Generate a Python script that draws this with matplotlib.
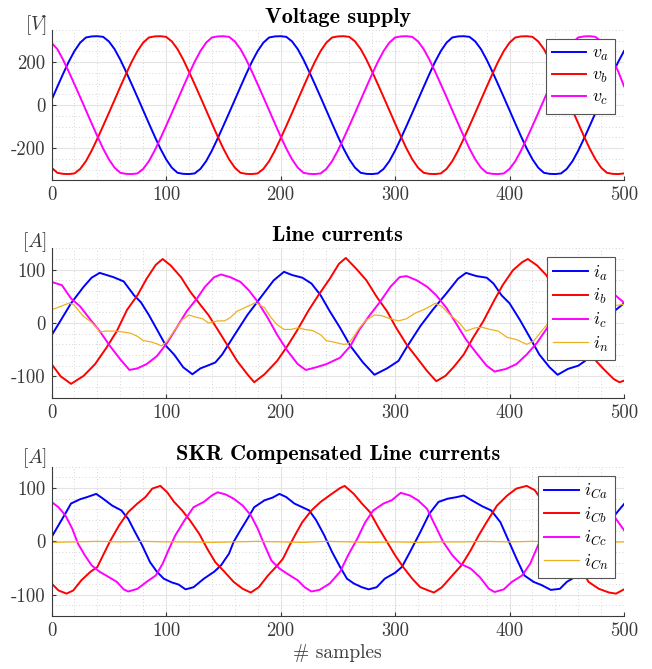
import numpy as np
import matplotlib
matplotlib.use("Agg")
import matplotlib.pyplot as plt
from matplotlib.ticker import MultipleLocator

plt.rcParams["font.family"] = "cmr10"
plt.rcParams["mathtext.fontset"] = "cm"
plt.rcParams["axes.unicode_minus"] = False

# ---- voltage supply, one value every 5 samples ----
samples_v = np.arange(0, 501, 5)
va = [24, 85, 145, 202, 252, 291, 315, 320, 321, 318, 297, 261, 212, 156, 97, 37,
      -24, -85, -145, -202, -252, -291, -315, -320, -321, -318, -297, -261, -212, -156, -97, -37,
      24, 85, 145, 202, 252, 291, 315, 320, 321, 318, 297, 261, 212, 156, 97, 37,
      -24, -85, -145, -202, -252, -291, -315, -320, -321, -318, -297, -261, -212, -156, -97, -37,
      24, 85, 145, 202, 252, 291, 315, 320, 321, 318, 297, 261, 212, 156, 97, 37,
      -24, -85, -145, -202, -252, -291, -315, -320, -321, -318, -297, -261, -212, -156, -97, -37,
      24, 85, 145, 202, 252]
vb = [-291, -315, -320, -321, -318, -297, -261, -212, -156, -97, -37,
      24, 85, 145, 202, 252, 291, 315, 320, 321, 318, 297, 261, 212, 156, 97, 37,
      -24, -85, -145, -202, -252, -291, -315, -320, -321, -318, -297, -261, -212, -156, -97, -37,
      24, 85, 145, 202, 252, 291, 315, 320, 321, 318, 297, 261, 212, 156, 97, 37,
      -24, -85, -145, -202, -252, -291, -315, -320, -321, -318, -297, -261, -212, -156, -97, -37,
      24, 85, 145, 202, 252, 291, 315, 320, 321, 318, 297, 261, 212, 156, 97, 37,
      -24, -85, -145, -202, -252, -291, -315, -320, -321, -318]
vc = [290, 261, 212, 156, 97, 37,
      -24, -85, -145, -202, -252, -291, -315, -320, -321, -318, -297, -261, -212, -156, -97, -37,
      24, 85, 145, 202, 252, 291, 315, 320, 321, 318, 297, 261, 212, 156, 97, 37,
      -24, -85, -145, -202, -252, -291, -315, -320, -321, -318, -297, -261, -212, -156, -97, -37,
      24, 85, 145, 202, 252, 291, 315, 320, 321, 318, 297, 261, 212, 156, 97, 37,
      -24, -85, -145, -202, -252, -291, -315, -320, -321, -318, -297, -261, -212, -156, -97, -37,
      24, 85, 145, 202, 252, 291, 315, 320, 321, 318, 297, 261, 212, 156, 88]

# ---- line currents, (sample, value) points ----
ia_s = [0, 8, 17, 28, 35, 42, 48, 54, 63, 72, 78, 85, 92, 100, 107, 115, 123, 130, 136, 143,
        149, 159, 171, 183, 194, 203, 210, 219, 227, 235, 243, 252, 261, 272, 282, 293, 303, 310,
        322, 333, 345, 355, 362, 371, 380, 386, 393, 400, 409, 418, 426, 435, 442, 451, 460, 466,
        471, 482, 493, 500]
ia_v = [-23, 5, 37, 68, 85, 94, 90, 86, 78, 52, 39, 15, -12, -43, -59, -83, -96, -85, -80, -74,
        -59, -25, 15, 49, 80, 96, 90, 85, 74, 52, 22, -9, -43, -74, -97, -85, -71, -46,
        -6, 25, 56, 83, 94, 88, 85, 74, 52, 37, 6, -28, -59, -83, -97, -86, -80, -71,
        -48, -6, 25, 37]
ib_s = [0, 8, 17, 28, 38, 48, 57, 66, 75, 83, 91, 97, 104, 113, 121, 130, 137, 145, 154, 162,
        171, 177, 186, 197, 206, 215, 224, 233, 243, 251, 257, 266, 275, 284, 293, 301, 310, 319,
        328, 336, 344, 351, 360, 368, 377, 386, 394, 403, 411, 416, 424, 432, 441, 450, 457, 465,
        473, 482, 491, 496, 500]
ib_v = [-77, -100, -114, -99, -77, -46, -15, 25, 52, 83, 109, 120, 108, 86, 59, 34, 15, -12, -43, -71,
        -96, -111, -96, -71, -43, -12, 22, 52, 83, 111, 122, 102, 80, 49, 22, -9, -40, -65,
        -90, -109, -99, -83, -59, -28, 3, 40, 71, 99, 114, 120, 108, 90, 59, 30, 8, -25,
        -65, -86, -105, -111, -108]
ic_s = [0, 9, 17, 25, 34, 42, 51, 60, 68, 75, 83, 92, 101, 110, 118, 127, 134, 142, 148, 156,
        165, 172, 180, 189, 197, 206, 215, 222, 231, 240, 252, 261, 269, 278, 287, 296, 304, 310,
        319, 328, 336, 345, 354, 362, 371, 380, 387, 397, 406, 415, 424, 432, 441, 450, 458, 467,
        477, 487, 500]
ic_v = [77, 71, 46, 31, 6, -15, -43, -68, -88, -85, -77, -62, -37, -6, 22, 46, 68, 86, 91, 86,
        77, 62, 40, 9, -22, -52, -77, -88, -83, -77, -65, -43, -12, 15, 40, 68, 86, 88,
        80, 68, 52, 28, -3, -31, -56, -80, -91, -86, -77, -59, -37, -12, 22, 52, 78, 89,
        80, 62, 38]
in_s = [0, 4, 10, 15, 19, 23, 28, 34, 40, 42, 48, 55, 63, 69, 75, 80, 86, 92, 96, 101,
        107, 114, 120, 126, 132, 137, 145, 151, 156, 162, 168, 174, 178, 186, 191, 197, 203, 209,
        215, 221, 228, 235, 240, 247, 255, 259, 263, 269, 275, 282, 288, 296, 303, 310, 318, 325,
        332, 335, 341, 348, 355, 362, 370, 376, 383, 390, 398, 406, 415, 421, 428, 435, 442, 457,
        470, 482, 490, 500]
in_v = [25, 28, 33, 37, 35, 25, 12, 3, -10, -17, -15, -15, -17, -19, -25, -33, -35, -39, -43, -34,
        -15, 6, 15, 11, 8, 0, 4, 4, 10, 22, 28, 34, 38, 29, 12, -3, -12, -12,
        -9, -12, -14, -22, -33, -36, -40, -39, -28, -9, 6, 15, 14, 8, 4, 8, 19, 25,
        33, 37, 31, 15, 3, -15, -9, -8, -12, -15, -27, -31, -40, -34, -15, 3, 14, 2,
        5, 20, 32, 35]

# ---- SKR compensated line currents ----
ica_s = [0, 6, 12, 17, 25, 31, 35, 39, 45, 53, 61, 67, 73, 79, 86, 92, 98, 105, 111, 117,
         124, 133, 142, 148, 155, 159, 165, 171, 177, 186, 193, 199, 205, 212, 219, 225, 231, 238,
         245, 252, 258, 264, 271, 277, 284, 291, 300, 306, 313, 322, 330, 338, 346, 354, 360, 367,
         376, 384, 392, 399, 406, 413, 421, 428, 436, 444, 450, 457, 463, 470, 478, 485, 493, 500]
ica_v = [8, 30, 52, 71, 79, 83, 86, 89, 80, 67, 58, 42, 17, -7, -39, -57, -70, -77, -81, -90,
         -86, -70, -57, -45, -23, -1, 21, 42, 64, 77, 82, 89, 83, 71, 64, 58, 40, 12,
         -20, -48, -70, -79, -86, -90, -86, -70, -59, -48, -20, 17, 52, 74, 80, 83, 86, 77,
         66, 58, 36, 2, -32, -64, -76, -82, -91, -89, -76, -67, -57, -40, -5, 25, 52, 70]
icb_s = [0, 6, 13, 19, 26, 34, 40, 45, 51, 59, 67, 75, 82, 88, 95, 101, 107, 114, 121, 129,
         136, 143, 151, 159, 167, 174, 181, 189, 196, 202, 208, 214, 219, 227, 235, 244, 252, 256,
         264, 271, 278, 286, 293, 300, 307, 315, 322, 329, 334, 341, 350, 358, 366, 373, 380, 389,
         398, 406, 415, 422, 428, 435, 442, 449, 456, 462, 469, 478, 487, 493, 500]
icb_v = [-79, -92, -98, -92, -73, -57, -48, -26, 0, 30, 55, 71, 83, 99, 104, 92, 74, 58, 39, 14,
         -14, -39, -57, -76, -89, -96, -86, -64, -48, -33, -7, 17, 36, 58, 74, 88, 100, 104,
         89, 71, 55, 24, -1, -26, -48, -70, -86, -92, -96, -86, -64, -45, -17, 11, 36, 67,
         86, 99, 104, 96, 78, 58, 36, 10, -20, -50, -76, -89, -96, -98, -90]
icc_s = [0, 6, 12, 18, 23, 29, 35, 42, 50, 57, 63, 67, 75, 83, 91, 97, 102, 108, 116, 124,
         133, 140, 145, 152, 159, 167, 174, 180, 186, 192, 199, 206, 215, 221, 227, 234, 243, 252,
         259, 267, 274, 281, 290, 297, 305, 313, 320, 328, 335, 342, 350, 357, 366, 374, 382, 387,
         395, 402, 411, 418, 425, 432, 440, 448, 456, 464, 473, 481, 487, 493, 500]
icc_v = [74, 64, 49, 24, -4, -26, -45, -57, -67, -76, -90, -94, -89, -76, -64, -42, -17, 11, 39, 64,
         74, 86, 92, 88, 80, 67, 49, 24, -7, -36, -51, -61, -73, -86, -94, -91, -79, -57,
         -26, 5, 36, 58, 71, 77, 91, 86, 77, 61, 30, -1, -26, -42, -51, -67, -89, -95,
         -90, -76, -64, -42, -7, 22, 55, 72, 80, 90, 85, 74, 60, 42, 21]
icn_s = [0, 20, 40, 60, 80, 100, 120, 140, 160, 180, 200, 220, 240, 260, 280, 300, 320, 340,
         360, 380, 400, 420, 440, 460, 480, 500]
icn_v = [-2, -1, 0, -1, 0, -1, -1, -2, -1, 0, -1, -2, 0, -1, -2, -1, -2, -1,
         -1, 0, -1, 0, -1, -1, -2, -1]

blue = (0, 0, 1)
red = (1, 0, 0)
magenta = (1, 0, 1)
amber = (0.929, 0.694, 0.125)
dark = "#3a3a3a"

fig = plt.figure(figsize=(6.52, 6.69), dpi=100)
ax1 = fig.add_axes([0.0791, 0.7305, 0.878, 0.2247])
ax2 = fig.add_axes([0.0791, 0.4055, 0.878, 0.2233])
ax3 = fig.add_axes([0.0791, 0.0792, 0.878, 0.2232])


def style(ax, ylim, ymajor, yminor, unit, title, unit_y):
    ax.set_xlim(0, 500)
    ax.set_ylim(*ylim)
    ax.xaxis.set_major_locator(MultipleLocator(100))
    ax.xaxis.set_minor_locator(MultipleLocator(20))
    ax.yaxis.set_major_locator(MultipleLocator(ymajor))
    ax.yaxis.set_minor_locator(MultipleLocator(yminor))
    ax.grid(which="major", color="#e4e4e4", linewidth=0.8)
    ax.grid(which="minor", color="#c8c8c8", linestyle=(0, (1, 3)), linewidth=0.6)
    ax.set_axisbelow(True)
    ax.spines["top"].set_visible(False)
    ax.spines["right"].set_visible(False)
    for side in ("left", "bottom"):
        ax.spines[side].set_color(dark)
        ax.spines[side].set_linewidth(0.8)
    ax.tick_params(which="both", direction="in", colors=dark, labelsize=13.5)
    ax.tick_params(which="major", length=3, pad=4.5)
    ax.tick_params(which="minor", length=0)
    ax.set_title(title, fontfamily="cmb10", fontsize=16, pad=5)
    ax.text(-0.008, unit_y, unit, transform=ax.transAxes, ha="right", va="center",
            fontsize=14, color=dark)


def legend(ax):
    leg = ax.legend(loc="upper right", fontsize=13, handlelength=1.9, handletextpad=0.3,
                    labelspacing=0.25, borderpad=0.35, borderaxespad=0.5,
                    fancybox=False, framealpha=1)
    leg.get_frame().set_edgecolor("#555555")
    leg.get_frame().set_linewidth(0.8)


ax1.plot(samples_v, va, color=blue, lw=1.4, label="$v_a$")
ax1.plot(samples_v, vb, color=red, lw=1.4, label="$v_b$")
ax1.plot(samples_v, vc, color=magenta, lw=1.4, label="$v_c$")
style(ax1, (-350, 350), 200, 50, "[$V$]", "Voltage supply", 1.03)
legend(ax1)

ax2.plot(ia_s, ia_v, color=blue, lw=1.4, label="$i_a$")
ax2.plot(ib_s, ib_v, color=red, lw=1.4, label="$i_b$")
ax2.plot(ic_s, ic_v, color=magenta, lw=1.4, label="$i_c$")
ax2.plot(in_s, in_v, color=amber, lw=0.9, label="$i_n$")
style(ax2, (-140, 140), 100, 20, "[$A$]", "Line currents", 1.04)
legend(ax2)

ax3.plot(ica_s, ica_v, color=blue, lw=1.4, label="$i_{Ca}$")
ax3.plot(icb_s, icb_v, color=red, lw=1.4, label="$i_{Cb}$")
ax3.plot(icc_s, icc_v, color=magenta, lw=1.4, label="$i_{Cc}$")
ax3.plot(icn_s, icn_v, color=amber, lw=0.9, label="$i_{Cn}$")
style(ax3, (-140, 140), 100, 20, "[$A$]", "SKR Compensated Line currents", 1.06)
legend(ax3)
ax3.set_xlabel("# samples", fontsize=14, color=dark, labelpad=3)

fig.savefig("out.png", dpi=100)
